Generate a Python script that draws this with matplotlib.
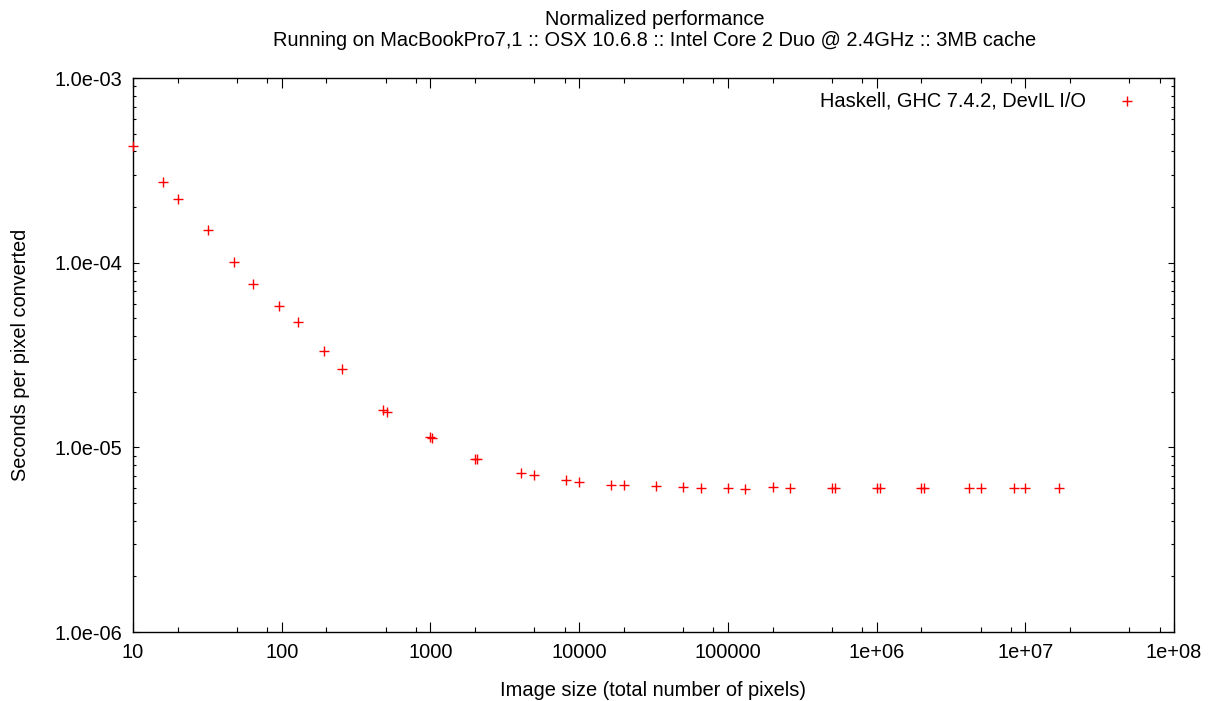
import matplotlib
matplotlib.use("Agg")
import matplotlib.pyplot as plt
from matplotlib.ticker import LogLocator, FixedLocator, FixedFormatter, NullFormatter

plt.rcParams['font.family'] = ['Liberation Sans', 'DejaVu Sans']

title_lines = ["Normalized performance",
               "Running on MacBookPro7,1 :: OSX 10.6.8 :: Intel Core 2 Duo @ 2.4GHz :: 3MB cache"]
series_label = "Haskell, GHC 7.4.2, DevIL I/O"
x_label = "Image size (total number of pixels)"
y_label = "Seconds per pixel converted"

pixels = [10, 16, 20, 32, 48, 64, 96, 128, 192, 256, 480, 512, 1000, 1024,
          2000, 2048, 4096, 5000, 8192, 10000, 16384, 20000, 32768, 50000,
          65536, 100000, 131072, 200000, 262144, 500000, 524288, 1000000,
          1048576, 2000000, 2097152, 4194304, 5000000, 8388608, 10000000,
          16777216]
seconds = [4.28e-4, 2.73e-4, 2.21e-4, 1.50e-4, 1.01e-4, 7.63e-5, 5.85e-5,
           4.79e-5, 3.32e-5, 2.64e-5, 1.60e-5, 1.55e-5, 1.14e-5, 1.12e-5,
           8.7e-6, 8.65e-6, 7.3e-6, 7.06e-6, 6.64e-6, 6.49e-6, 6.23e-6,
           6.23e-6, 6.15e-6, 6.12e-6, 6.03e-6, 6.0e-6, 5.98e-6, 6.08e-6,
           6.05e-6, 6.03e-6, 6.03e-6, 6.0e-6, 6.0e-6, 6.0e-6, 6.0e-6,
           6.02e-6, 5.99e-6, 6.0e-6, 5.99e-6, 5.99e-6]

x_ticks = [10, 100, 1000, 10000, 100000, 1e6, 1e7, 1e8]
x_tick_labels = ["10", "100", "1000", "10000", "100000", "1e+06", "1e+07", "1e+08"]
y_ticks = [1e-6, 1e-5, 1e-4, 1e-3]
y_tick_labels = ["1.0e-06", "1.0e-05", "1.0e-04", "1.0e-03"]

FS = 14.4
W, H = 1216, 701
L, R, T, B = 133, 1174, 78, 632

fig = plt.figure(figsize=(W / 100, H / 100), dpi=100)
ax = fig.add_axes([L / W, 1 - B / H, (R - L) / W, (B - T) / H])

ax.set_xscale('log')
ax.set_yscale('log')
ax.set_xlim(10, 1e8)
ax.set_ylim(1e-6, 1e-3)

ax.plot(pixels, seconds, linestyle='none', marker='+', color='#ff0000',
        markersize=7.5, markeredgewidth=1.0, clip_on=False, zorder=3)

ax.xaxis.set_major_locator(FixedLocator(x_ticks))
ax.xaxis.set_major_formatter(FixedFormatter(x_tick_labels))
ax.xaxis.set_minor_locator(LogLocator(base=10, subs=[2, 5, 8], numticks=20))
ax.xaxis.set_minor_formatter(NullFormatter())
ax.yaxis.set_major_locator(FixedLocator(y_ticks))
ax.yaxis.set_major_formatter(FixedFormatter(y_tick_labels))
ax.yaxis.set_minor_locator(LogLocator(base=10, subs=[2, 3, 4, 5, 6, 7, 8, 9], numticks=20))
ax.yaxis.set_minor_formatter(NullFormatter())

ax.tick_params(axis='x', which='major', direction='in', length=7, width=0.8,
               top=True, bottom=True, labelsize=FS, pad=8, colors='black')
ax.tick_params(axis='x', which='minor', direction='in', length=3.5, width=0.8,
               top=True, bottom=True)
ax.tick_params(axis='y', which='major', direction='in', length=4.5, width=0.8,
               left=True, right=True, labelsize=FS, pad=8)
ax.tick_params(axis='y', which='minor', direction='in', length=2.3, width=0.8,
               left=True, right=True)
for s in ax.spines.values():
    s.set_linewidth(1.0)
    s.set_color('black')

ax.set_xlabel(x_label, fontsize=FS)
ax.xaxis.label.set_va('center')
ax.xaxis.set_label_coords(((L + R) / 2 - L) / (R - L), (B - 690) / (B - T))
ax.set_ylabel(y_label, fontsize=FS)
ax.yaxis.label.set_va('center')
ax.yaxis.set_label_coords((21 - L) / (R - L), 0.5)

fig.text(655 / W, 1 - 25 / H, title_lines[0], ha='center', va='baseline', fontsize=FS)
fig.text(655 / W, 1 - 46 / H, title_lines[1], ha='center', va='baseline', fontsize=FS)

# legend
ax.text((1086 - L) / (R - L), 1 - (101 - T) / (B - T), series_label,
        transform=ax.transAxes, ha='right', va='center', fontsize=FS)
ax.plot([(1127 - L) / (R - L)], [1 - (101 - T) / (B - T)], transform=ax.transAxes,
        linestyle='none', marker='+', color='#ff0000', markersize=7.5,
        markeredgewidth=1.0)

fig.savefig("out.png", dpi=100)
